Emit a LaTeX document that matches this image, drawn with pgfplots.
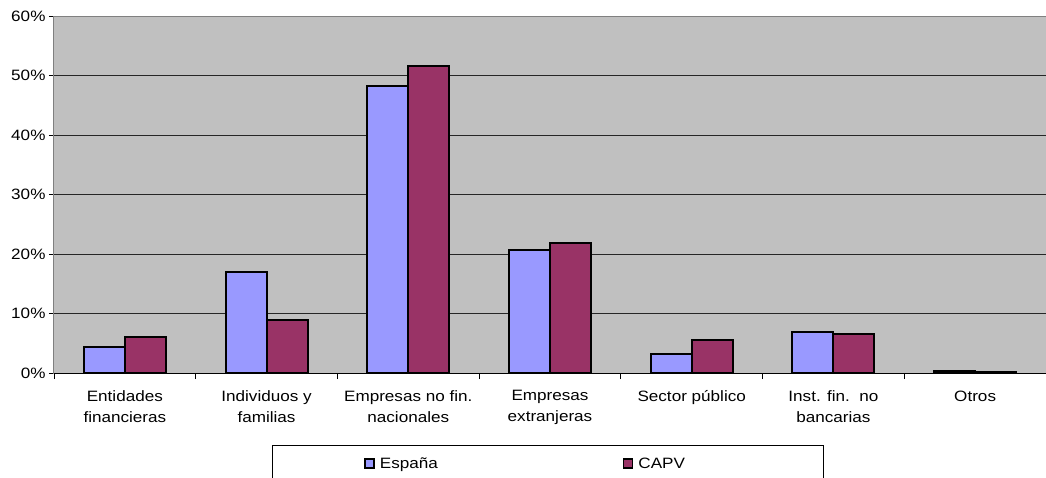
\documentclass[border=0pt]{standalone}
\usepackage{pgfplots}
\pgfplotsset{compat=1.18}
\usepackage{fontspec}
\setmainfont{Liberation Sans}[FakeStretch=1.14]
\definecolor{bgray}{HTML}{C0C0C0}
\definecolor{espana}{HTML}{9999FF}
\definecolor{capv}{HTML}{993366}
\begin{document}
\begin{tikzpicture}
\path[use as bounding box] (-54pt,-104pt) rectangle (992pt,373pt);
\begin{axis}[
  scale only axis,
  width=992pt, height=357pt,
  xmin=0.5, xmax=7.5, ymin=0, ymax=60,
  axis background/.style={fill=bgray},
  axis line style={draw=gray, line width=1pt},
  ybar=0pt, bar width=41pt,
  ytick={0,10,...,60},
  yticklabel={\pgfmathprintnumber{\tick}\%},
  /pgf/number format/assume math mode=true,
  ymajorgrids,
  major grid style={black!85, line width=0.8pt},
  tick pos=left, tick align=outside,
  major tick length=5pt,
  tick style={black, line width=0.8pt},
  xtick={1,...,7},
  x tick style={draw=none},
  xticklabels={Entidades\\financieras, Individuos y\\familias, Empresas no fin.\\nacionales, Empresas\\extranjeras, Sector público, Inst. fin.\ \ no\\bancarias, Otros},
  xticklabel style={align=center, font=\fontsize{15}{21}\selectfont, yshift=-9pt},
  yticklabel style={font=\fontsize{15}{17}\selectfont},
  extra x ticks={0.5,1.5,...,7.5},
  extra x tick labels={},
  extra x tick style={x tick style={draw=black}, major tick length=6pt},
  legend columns=2,
  legend style={at={(axis description cs:0.2198,-0.2017)}, anchor=north west,
    draw=black, line width=0.8pt, inner xsep=92pt, inner ysep=10pt,
    font=\fontsize{15}{17}\selectfont,
    /tikz/every even column/.append style={column sep=0pt}},
  legend image code/.code={\draw[#1, line width=1.5pt] (0pt,-4.5pt) rectangle (9pt,4.5pt);},
]
\addplot[fill=espana, draw=black, line width=2pt] coordinates {(1,4.4) (2,16.9) (3,48.2) (4,20.6) (5,3.2) (6,6.9) (7,0.4)};
\addplot[fill=capv, draw=black, line width=2pt] coordinates {(1,6.1) (2,8.9) (3,51.6) (4,21.9) (5,5.5) (6,6.5) (7,0.2)};
\legend{\makebox[244pt][l]{\hspace*{3pt}España}, \makebox[94pt][l]{\hspace*{3pt}CAPV}}
\draw[black, line width=1pt] (axis cs:0.5,0) -- (axis cs:7.5,0);
\end{axis}
\end{tikzpicture}
\end{document}
